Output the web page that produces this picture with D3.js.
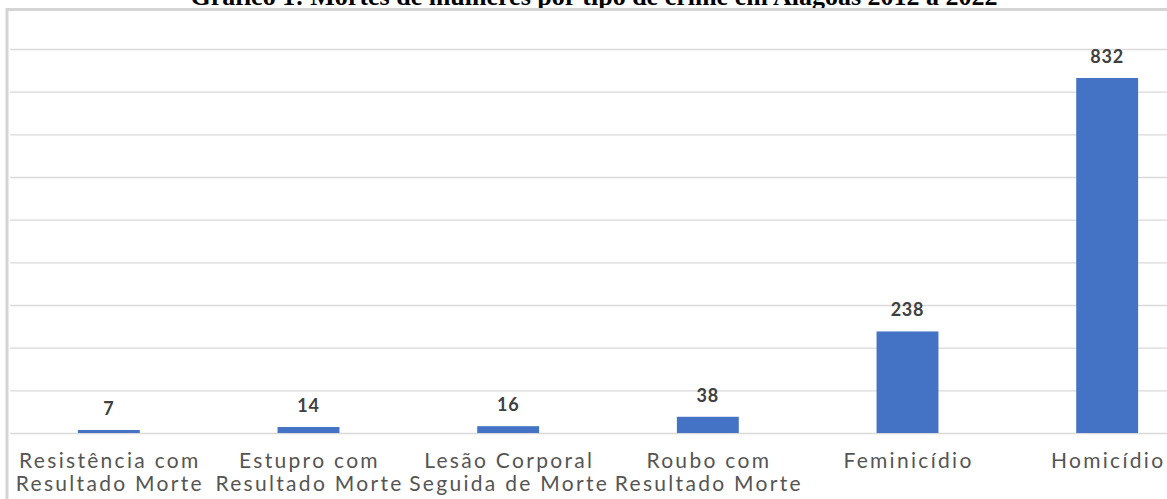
<!DOCTYPE html>
<html>
<head>
<meta charset="utf-8">
<script src="https://cdn.jsdelivr.net/npm/d3@7"></script>
<style>
  html, body { margin: 0; padding: 0; background: #ffffff; }
  svg { display: block; }
</style>
</head>
<body>
<script>
const title = "Gráfico 1: Mortes de mulheres por tipo de crime em Alagoas 2012 a 2022";
const categories = [
  "Resistência com Resultado Morte",
  "Estupro com Resultado Morte",
  "Lesão Corporal Seguida de Morte",
  "Roubo com Resultado Morte",
  "Feminicídio",
  "Homicídio"
];
const categoryLines = [
  ["Resistência com", "Resultado Morte"],
  ["Estupro com", "Resultado Morte"],
  ["Lesão Corporal", "Seguida de Morte"],
  ["Roubo com", "Resultado Morte"],
  ["Feminicídio"],
  ["Homicídio"]
];
const values = [7, 14, 16, 38, 238, 832];
const gridTicks = [0, 100, 200, 300, 400, 500, 600, 700, 800, 900];

const W = 1167, H = 499;
const svg = d3.select("body").append("svg").attr("width", W).attr("height", H);

// plot geometry
const x = d3.scaleBand().domain(categories).range([9, 1207]).paddingInner(0.69).paddingOuter(0.345);
const y = d3.scaleLinear().domain([0, 900]).range([433, 49]);

// title (partly cut off at top)
svg.append("text")
  .attr("x", 594).attr("y", 4.5)
  .attr("text-anchor", "middle")
  .attr("font-family", "Liberation Serif, 'Times New Roman', serif")
  .attr("font-weight", "bold")
  .attr("font-size", 26)
  .attr("fill", "#000")
  .text(title);

// chart frame
svg.append("rect")
  .attr("x", 7).attr("y", 9.5)
  .attr("width", W + 20).attr("height", H + 20)
  .attr("fill", "#ffffff")
  .attr("stroke", "#d4d4d4")
  .attr("stroke-width", 3);

// gridlines via axis
const grid = svg.append("g")
  .attr("transform", "translate(10,0)")
  .call(d3.axisLeft(y).tickValues(gridTicks).tickSize(-(W - 10)).tickFormat(""));
grid.select(".domain").remove();
grid.selectAll(".tick line").attr("stroke", "#d9d9d9").attr("stroke-width", 1.3);

// bars
svg.append("g").selectAll("rect")
  .data(values)
  .join("rect")
  .attr("x", (d, i) => x(categories[i]))
  .attr("width", x.bandwidth())
  .attr("y", d => y(d))
  .attr("height", d => y(0) - y(d))
  .attr("fill", "#4472C4");

// value labels
svg.append("g").selectAll("text")
  .data(values)
  .join("text")
  .attr("x", (d, i) => x(categories[i]) + x.bandwidth() / 2)
  .attr("y", d => y(d) - 15)
  .attr("text-anchor", "middle")
  .attr("font-family", "Lato, 'Open Sans', sans-serif")
  .attr("font-weight", "bold")
  .attr("font-size", 18)
  .attr("letter-spacing", 0.8)
  .attr("fill", "#404040")
  .text(d => d);

// category labels
const xl = svg.append("g").selectAll("text")
  .data(categoryLines)
  .join("text")
  .attr("x", (d, i) => x(categories[i]) + x.bandwidth() / 2 + 1)
  .attr("y", 468)
  .attr("text-anchor", "middle")
  .attr("font-family", "Lato, 'Open Sans', sans-serif")
  .attr("font-size", 21)
  .attr("letter-spacing", 2.3)
  .attr("fill", "#555555");
xl.selectAll("tspan")
  .data(d => d)
  .join("tspan")
  .attr("x", function() { return d3.select(this.parentNode).attr("x"); })
  .attr("dy", (d, i) => i === 0 ? 0 : 23)
  .text(d => d);
</script>
</body>
</html>
